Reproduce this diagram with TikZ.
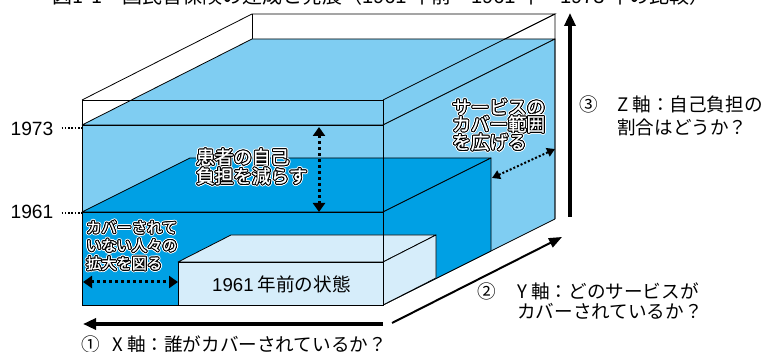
\documentclass[tikz,border=0pt]{standalone}
\usepackage{fontspec}
\setmainfont{Noto Sans CJK JP}
\newfontfamily\lat{Liberation Sans}
\newfontfamily\jpb[FakeBold=1.2]{Noto Sans CJK JP}
\usetikzlibrary{arrows.meta,calc}
\definecolor{lb}{RGB}{127,205,242}
\definecolor{db}{RGB}{0,160,228}
\definecolor{pb}{RGB}{214,237,250}
\newcommand\halo[4]{%
  \foreach \ang in {0,30,...,330}
    \node[#1,text=white] at ($(#2)+(\ang:2.0)$) {#4};
  \foreach \ang in {0,30,...,330}
    \node[#1,text=black] at ($(#2)+(\ang:1.0)$) {#4};
  \node[#1,text=white] (#3) at (#2) {#4};}
\begin{document}
\begin{tikzpicture}[x=1pt,y=-1pt,
  face/.style={draw=black,line width=0.8pt,line join=round},
  wire/.style={draw=black,line width=0.8pt},
  lbl/.style={inner sep=0pt,anchor=base west,font=\fontsize{18.6}{18.6}\selectfont},
  yr/.style={inner sep=0pt,anchor=base east,font=\fontsize{19.2}{19.2}\selectfont\lat},
  hs/.style={inner sep=0pt,anchor=base west,font=\fontsize{15.2}{15.2}\selectfont\jpb},
  hb/.style={inner sep=0pt,anchor=base west,font=\fontsize{18.6}{18.6}\selectfont\jpb},
  leader/.style={line width=1.5pt,dash pattern=on 1.5pt off 1.8pt},
  axis/.style={line width=3.2pt,-{Triangle[length=13pt,width=11pt]}},
  axisy/.style={line width=2pt,-{Triangle[length=13pt,width=10pt]}},
  dotarrow/.style={line width=3pt,dash pattern=on 3pt off 3pt,
    {Triangle[length=9pt,width=12pt]}-{Triangle[length=9pt,width=12pt]}},
  dotthin/.style={line width=2pt,dash pattern=on 2pt off 2pt,
    {Triangle[length=8pt,width=9pt]}-{Triangle[length=8pt,width=9pt]}}]
\useasboundingbox (0,0) rectangle (766,352);
% title (cut off at the top)
\node[inner sep=0pt,anchor=base,font=\fontsize{20}{20}\selectfont] (title) at (381,4)
  {図1-1　国民皆保険の達成と発展（{\lat 1961} 年前・{\lat 1961} 年・{\lat 1973} 年の比較）};
% back wire frame
\draw[wire] (82,100) -- (252,14) -- (555,14) -- (383,100);
\draw[wire] (252,14) -- (252,39);
% 1973 volume
\filldraw[face,fill=lb] (82,125) -- (383,125) -- (555,39) -- (252,39) -- cycle;
\filldraw[face,fill=lb] (383,125) -- (555,39) -- (555,219) -- (383,305) -- cycle;
\filldraw[face,fill=lb] (82,125) rectangle (383,305);
% 1961 volume
\filldraw[face,fill=db] (82,212) -- (383,212) -- (491,158) -- (190,158) -- cycle;
\filldraw[face,fill=db] (383,212) -- (491,158) -- (491,251) -- (383,305) -- cycle;
\filldraw[face,fill=db] (82,212) rectangle (383,305);
% before 1961
\filldraw[face,fill=pb] (178,262) -- (383,262) -- (436,235) -- (231,235) -- cycle;
\filldraw[face,fill=pb] (383,262) -- (436,235) -- (436,278) -- (383,305) -- cycle;
\filldraw[face,fill=pb] (178,262) rectangle (383,305);
% front wire frame
\draw[wire] (82,100) rectangle (383,305);
\draw[wire] (383,100) -- (555,14) -- (555,219);
% pre-1961 label
\node[inner sep=0pt,anchor=base,font=\fontsize{18.6}{18.6}\selectfont] (pre) at (281.5,292) {{\lat 1961} 年前の状態};
% year labels
\node[yr] (y73) at (53.5,136) {1973};
\node[yr] (y61) at (53.5,219) {1961};
\coordinate (e73) at (82,128);
\coordinate (e61) at (82,213);
\draw[leader] (y73.east |- e73) ++(8,0) -- (e73);
\draw[leader] (y61.east |- e61) ++(8,0) -- (e61);
% axes
\coordinate (xs) at (383,324); \coordinate (xe) at (83,324);
\draw[axis] (xs) -- (xe);
\coordinate (ys) at (392,323); \coordinate (ye) at (562,237);
\draw[axisy] (ys) -- (ye);
\coordinate (zs) at (570,217); \coordinate (ze) at (570,13);
\draw[axis] (zs) -- (ze);
% dotted arrows
\coordinate (v1) at (319,127); \coordinate (v2) at (319,212);
\draw[dotarrow] (v1) -- (v2);
\coordinate (h1) at (83,282); \coordinate (h2) at (178,282);
\draw[dotarrow] (h1) -- (h2);
\coordinate (d1) at (492,178); \coordinate (d2) at (555,149);
\draw[dotthin] (d1) -- (d2);
% outlined texts
\halo{hs}{86,233}{l1}{カバーされて}
\halo{hs}{86,251}{l2}{いない人々の}
\halo{hs}{86,269}{l3}{拡大を図る}
\halo{hb}{196,164}{c1}{患者の自己}
\halo{hb}{196,183}{c2}{負担を減らす}
\halo{hb}{452,114}{r1}{サービスの}
\halo{hb}{452,131}{r2}{カバー範囲}
\halo{hb}{452,149}{r3}{を広げる}
% axis labels
\node[lbl] (zn) at (579,112) {③};
\node[lbl] (z1) at (617,112) {Z 軸：自己負担の};
\node[lbl] (z2) at (617,135) {割合はどうか？};
\node[lbl] (yn) at (477,299) {②};
\node[lbl] (y1) at (517,299) {Y 軸：どのサービスが};
\node[lbl] (y2) at (517,319) {カバーされているか？};
\node[lbl] (xn) at (81,352) {①};
\node[lbl] (x1) at (112,352) {X 軸：誰がカバーされているか？};
\end{tikzpicture}
\end{document}
